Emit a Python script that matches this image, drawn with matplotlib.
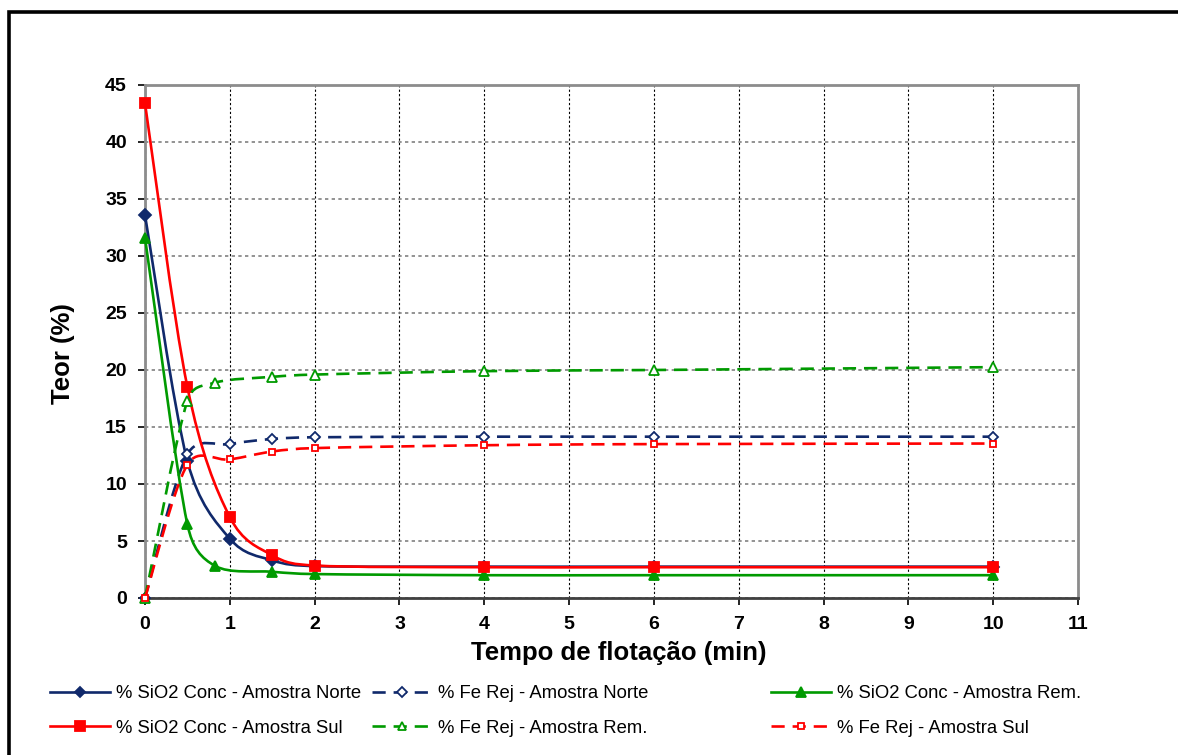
import numpy as np
import matplotlib
matplotlib.use("Agg")
import matplotlib.pyplot as plt
from matplotlib.path import Path
from matplotlib.patches import PathPatch, Rectangle
from matplotlib.lines import Line2D

plt.rcParams['font.family'] = ['Liberation Sans', 'DejaVu Sans']

# tempos de flotação (min)
t_ns = [0, 0.5, 1, 1.5, 2, 4, 6, 10]
t_rem = [0, 0.5, 0.83, 1.5, 2, 4, 6, 10]

# teores (%)
sio2_norte = [33.6, 12.0, 5.2, 3.3, 2.8, 2.75, 2.75, 2.75]
fe_norte = [0.0, 12.6, 13.5, 13.95, 14.1, 14.15, 14.15, 14.15]
sio2_rem = [31.6, 6.45, 2.8, 2.3, 2.1, 2.0, 2.0, 2.0]
sio2_sul = [43.4, 18.5, 7.1, 3.75, 2.85, 2.7, 2.7, 2.7]
fe_rem = [0.0, 17.3, 18.9, 19.4, 19.6, 19.9, 20.0, 20.25]
fe_sul = [0.0, 11.7, 12.15, 12.85, 13.15, 13.4, 13.5, 13.55]

labels = ["% SiO2 Conc - Amostra Norte", "% Fe Rej - Amostra Norte",
          "% SiO2 Conc - Amostra Rem.", "% SiO2 Conc - Amostra Sul",
          "% Fe Rej - Amostra Rem.", "% Fe Rej - Amostra Sul"]

NAVY = '#10296b'
RED = '#ff0000'
GREEN = '#009a00'
DASH = (0, (5, 3))

# escala aproximada em pixels por unidade (para suavização tipo Excel)
SX, SY = 933 / 11, 513 / 45


def smooth_path(x, y):
    # curva suavizada estilo Excel: Bezier Catmull-Rom com braços limitados
    pts = np.column_stack([np.asarray(x) * SX, np.asarray(y) * SY]).astype(float)
    n = len(pts)
    verts = [pts[0]]
    codes = [Path.MOVETO]
    for i in range(n - 1):
        p0 = pts[max(i - 1, 0)]
        p1 = pts[i]
        p2 = pts[i + 1]
        p3 = pts[min(i + 2, n - 1)]
        d12 = np.hypot(*(p2 - p1))
        a1 = (p2 - p0) / 6
        a2 = (p3 - p1) / 6
        for a in (a1, a2):
            la = np.hypot(*a)
            if la > d12 / 2:
                a *= (d12 / 2) / la
        verts += [p1 + a1, p2 - a2, p2]
        codes += [Path.CURVE4] * 3
    verts = np.array(verts) / [SX, SY]
    return Path(verts, codes)


fig = plt.figure(figsize=(11.78, 7.55), dpi=100)
ax = fig.add_axes([145 / 1178, 1 - 598 / 755, 933 / 1178, 513 / 755])

series = [
    (t_ns, sio2_norte, NAVY, '-', 'D', NAVY, 6),
    (t_ns, fe_norte, NAVY, DASH, 'D', 'white', 5.5),
    (t_rem, sio2_rem, GREEN, '-', '^', GREEN, 7.5),
    (t_ns, sio2_sul, RED, '-', 's', RED, 7.5),
    (t_rem, fe_rem, GREEN, DASH, '^', 'white', 7),
    (t_ns, fe_sul, RED, DASH, 's', 'white', 5),
]

handles = []
for k, (x, y, c, ls, mk, mfc, ms) in enumerate(series):
    ax.add_patch(PathPatch(smooth_path(x, y), facecolor='none', edgecolor=c,
                           lw=1.9, linestyle=ls, zorder=3 + k, clip_on=False))
    ax.plot(x, y, linestyle='none', marker=mk, color=c, mfc=mfc, mec=c,
            mew=1.3, ms=ms, zorder=3 + k, clip_on=False)
    handles.append(Line2D([], [], color=c, lw=1.9, linestyle=ls, marker=mk,
                          mfc=mfc, mec=c, mew=1.3, ms=ms * 0.9))

ax.set_xlim(0, 11)
ax.set_ylim(0, 45)
ax.set_xticks(range(0, 12))
ax.set_yticks(range(0, 50, 5))

ax.grid(axis='y', color='#808080', linestyle=(0, (2, 2)), lw=1.2, zorder=1)
ax.grid(axis='x', color='black', linestyle=(0, (2, 2)), lw=0.8, zorder=1)
ax.set_axisbelow(True)
ax.axvline(0, color='black', linestyle=(0, (3, 2)), lw=1.6, zorder=2)

for s in ['top', 'right', 'left']:
    ax.spines[s].set_color('#8c8c8c')
    ax.spines[s].set_linewidth(2)
ax.spines['bottom'].set_color('#404040')
ax.spines['bottom'].set_linewidth(2)

ax.tick_params(axis='both', direction='out', length=5, width=1.2,
               color='black', labelsize=14, pad=8)
for lab in ax.get_xticklabels() + ax.get_yticklabels():
    lab.set_fontweight('bold')

fig.text(619 / 1178, 1 - 660 / 755, "Tempo de flotação (min)", ha='center',
         va='baseline', fontsize=18.5, fontweight='bold')
fig.text(63 / 1178, 1 - 354 / 755, "Teor (%)", ha='center', va='center',
         rotation=90, fontsize=18.5, fontweight='bold')

# legenda em 3 colunas, 2 linhas
cols = [(50, [0, 3]), (372, [1, 4]), (771, [2, 5])]
for x0, idx in cols:
    leg = fig.legend([handles[i] for i in idx], [labels[i] for i in idx],
                     loc='center left', bbox_to_anchor=(x0 / 1178, 1 - 711 / 755),
                     frameon=False, fontsize=13.3, borderpad=0, borderaxespad=0,
                     handlelength=3.25, handletextpad=0.33, labelspacing=0.95,
                     numpoints=1)

# moldura externa
fig.patches.append(Rectangle((9 / 1178, -0.2), 1.5, 1 - 11.5 / 755 + 0.2,
                             transform=fig.transFigure, fill=False,
                             edgecolor='black', lw=2.6))

fig.savefig('out.png', dpi=100)
